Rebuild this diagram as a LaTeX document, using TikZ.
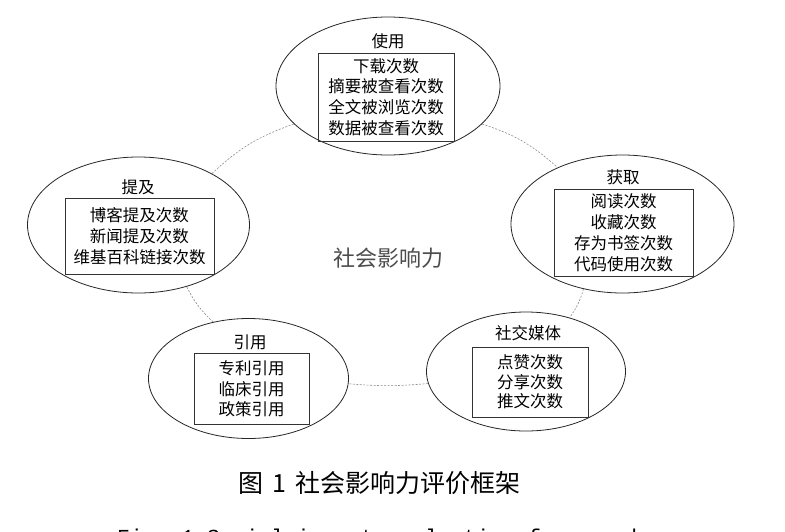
\documentclass[tikz,border=0pt]{standalone}
\usepackage{fontspec}
\newfontfamily\cjk{Noto Sans CJK SC}
\setmonofont{Liberation Mono}
\usetikzlibrary{shapes.geometric}
\begin{document}
\begin{tikzpicture}[x=1pt,y=-1pt,
  oval/.style={ellipse, draw=black!85, line width=0.8pt, inner sep=0pt},
  itembox/.style={rectangle, draw=black!80, line width=0.9pt, inner sep=0pt, align=center, font=\cjk\fontsize{16.5}{#1}\selectfont},
  itembox/.default=20.7,
  ttl/.style={inner sep=0pt, font=\cjk\fontsize{16.5}{20}\selectfont},
  link/.style={draw=black!45, line width=0.6pt, dash pattern=on 2pt off 1.5pt}]
\useasboundingbox (0,0) rectangle (785,531);
\clip (0,0) rectangle (785,531);
\fill[white] (0,0) rectangle (785,531);

% ellipses
\node[oval, minimum width=224pt, minimum height=138pt] (use) at (388,86) {};
\node[oval, minimum width=222pt, minimum height=136pt] (ment) at (138.5,225) {};
\node[oval, minimum width=223pt, minimum height=138pt] (acq) at (622.5,224) {};
\node[oval, minimum width=200pt, minimum height=120pt] (cite) at (248.5,378.5) {};
\node[oval, minimum width=199pt, minimum height=119pt] (soc) at (526,371.5) {};

% titles
\node[ttl] (usettl) at (388,41) {使用};
\node[ttl] (mentttl) at (138,187) {提及};
\node[ttl] (acqttl) at (623,177) {获取};
\node[ttl] (citettl) at (250,342) {引用};
\node[ttl] (socttl) at (528,333) {社交媒体};

% boxes
\node[itembox, minimum width=136pt, minimum height=88pt] (usebox) at (386,97) {下载次数\\摘要被查看次数\\全文被浏览次数\\数据被查看次数};
\node[itembox=21, minimum width=149pt, minimum height=76pt] (mentbox) at (139.5,236) {博客提及次数\\新闻提及次数\\维基百科链接次数};
\node[itembox=21, minimum width=139pt, minimum height=87pt] (acqbox) at (623.5,233) {阅读次数\\收藏次数\\存为书签次数\\代码使用次数};
\node[itembox=20.5, minimum width=115pt, minimum height=71pt] (citebox) at (251.5,389) {专利引用\\临床引用\\政策引用};
\node[itembox=19.5, minimum width=116pt, minimum height=70pt] (socbox) at (530,382) {点赞次数\\分享次数\\推文次数};

% centre label
\node[inner sep=0pt, text=black!70, font=\cjk\fontsize{22}{22}\selectfont] (core) at (388,258) {社会影响力};

% dashed ring
\draw[link] (use.-22) to[bend left=12] (acq.139.5);
\draw[link] (acq.239) to[bend left=10] (soc.51);
\draw[link] (soc.187) to[bend left=5] (cite.-3);
\draw[link] (cite.122) to[bend left=10] (ment.-52);
\draw[link] (ment.35) to[bend left=12] (use.202);

% captions
\node[anchor=west, inner sep=0pt, font=\cjk\fontsize{25}{25}\selectfont] (cap) at (238,483) {图\hspace{9pt}1\hspace{9pt}社会影响力评价框架};
\node[anchor=base west, inner sep=0pt, font=\ttfamily\fontsize{21.4}{22}\selectfont] (capen) at (117,544) {Fig. 1 Social impact evaluation framework};
\end{tikzpicture}
\end{document}
